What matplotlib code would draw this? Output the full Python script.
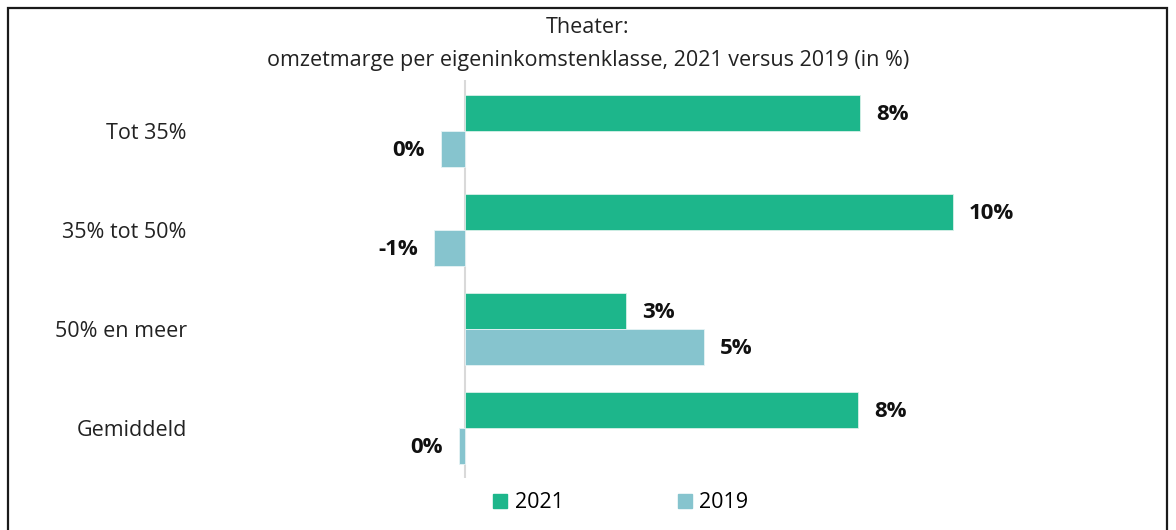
import matplotlib.pyplot as plt
from matplotlib.patches import Patch, Rectangle

# categories and series (omzetmarge in %)
categories = ['Tot 35%', '35% tot 50%', '50% en meer', 'Gemiddeld']
marge_2021 = [8.1, 10.0, 3.3, 8.05]
marge_2019 = [-0.49, -0.64, 4.9, -0.12]
series_names = ['2021', '2019']

green = '#1db68b'
blue = '#86c4ce'

plt.rcParams['font.family'] = ['Open Sans', 'DejaVu Sans']
fs = 15.5

fig = plt.figure(figsize=(11.76, 5.30), dpi=100)
ax = fig.add_axes([0.3124, 0.0981, 0.581, 0.751])

h = 0.364
y = list(range(len(categories)))
ax.barh([i - h / 2 for i in y], marge_2021, height=h, color=green,
        edgecolor='#d8f0e8', linewidth=0.6)
ax.barh([i + h / 2 for i in y], marge_2019, height=h, color=blue,
        edgecolor='#e6f3f5', linewidth=0.6)


def pct(v):
    s = f'{round(v):.0f}%'
    return '0%' if s == '-0%' else s


for vals, off in [(marge_2021, -h / 2), (marge_2019, h / 2)]:
    for i, v in enumerate(vals):
        if v >= 0:
            ax.text(v + 0.33, i + off + 0.02, pct(v), ha='left', va='center',
                    fontsize=16, fontweight='bold', color='#111111')
        else:
            ax.text(v - 0.33, i + off + 0.02, pct(v), ha='right', va='center',
                    fontsize=16, fontweight='bold', color='#111111')

ax.axvline(0, color='#d9d9d9', linewidth=1.5, zorder=0)
ax.set_xlim(-2, 12)
ax.set_ylim(3.51, -0.515)
ax.set_yticks(y)
ax.set_yticklabels(categories, fontsize=fs, color='#222222')
ax.tick_params(axis='y', length=0, pad=130)
ax.set_xticks([])
for sp in ax.spines.values():
    sp.set_visible(False)

fig.text(0.5, 0.948, 'Theater:', ha='center', va='center', fontsize=fs, color='#222222')
fig.text(0.5, 0.886, 'omzetmarge per eigeninkomstenklasse, 2021 versus 2019 (in %)',
         ha='center', va='center', fontsize=fs, color='#222222')

handles = [Patch(color=green), Patch(color=blue)]
fig.legend(handles, series_names, loc='center', bbox_to_anchor=(0.528, 0.051),
           ncol=2, frameon=False, fontsize=fs, handlelength=0.65, handleheight=0.65,
           handletextpad=0.35, columnspacing=5.3)

# outer frame
fig.patches.append(Rectangle((8 / 1176, -0.05), 1159 / 1176, 1.05 - 8 / 530,
                             transform=fig.transFigure, fill=False,
                             edgecolor='#1a1a1a', linewidth=1.6))

fig.savefig('out.png', dpi=100)
